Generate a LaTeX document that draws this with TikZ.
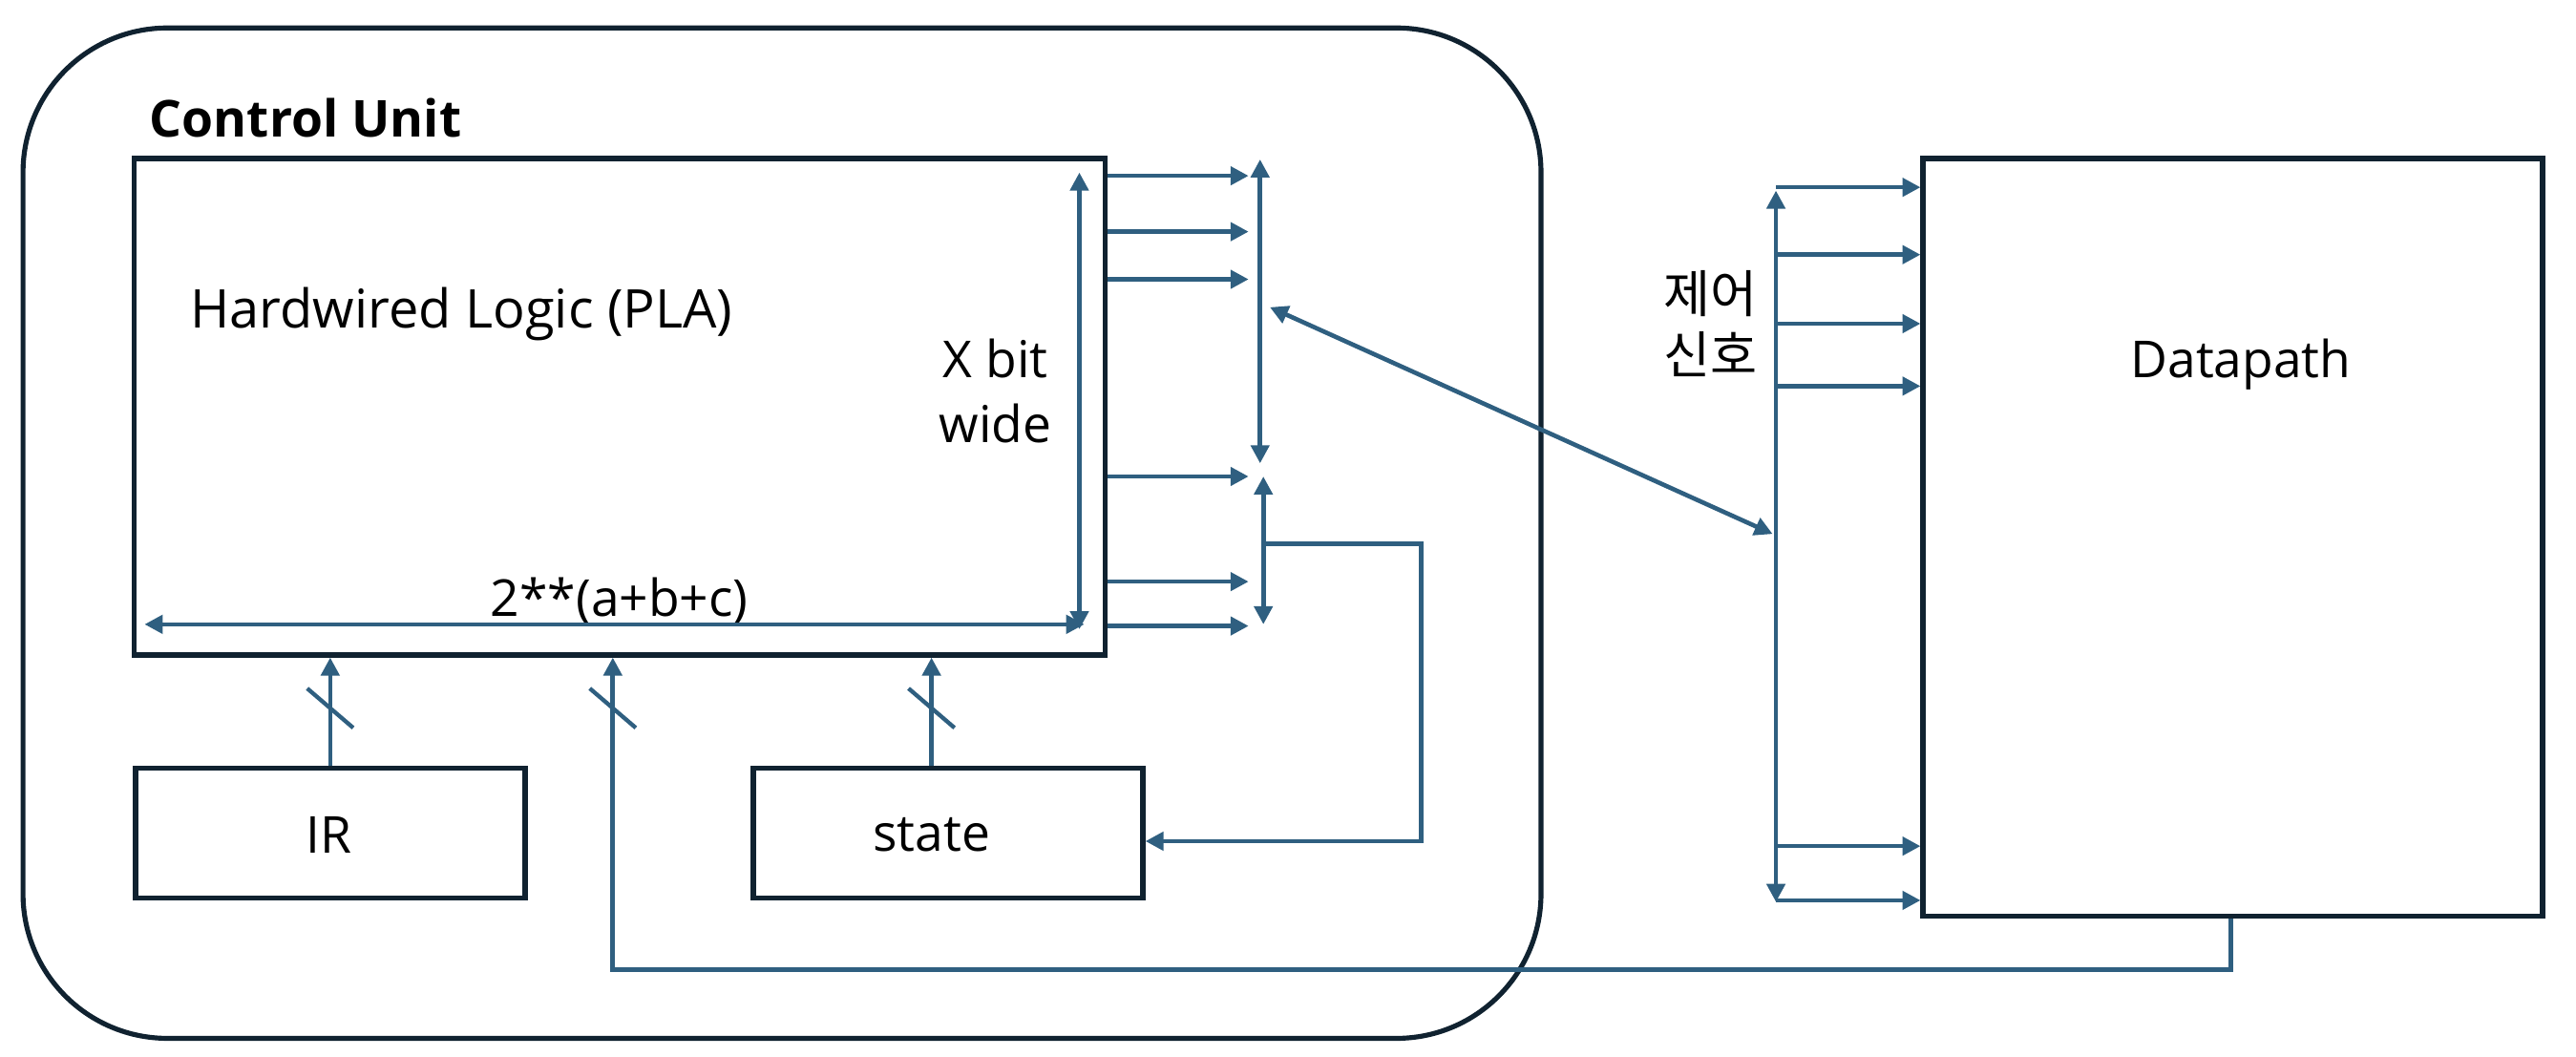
\documentclass[tikz,border=0pt]{standalone}
\usepackage{fontspec}
\setmainfont{Open Sans}
\newfontfamily\krfont{Noto Sans CJK KR}
\usetikzlibrary{arrows.meta}
\definecolor{boxc}{HTML}{102230}
\definecolor{arrc}{HTML}{2F5F80}
\tikzset{
  box/.style={draw=boxc, line width=3.2pt, anchor=north west, inner sep=0pt},
  wire/.style={draw=arrc, line width=2.7pt},
  arr/.style={wire, -{Triangle[length=11pt,width=11pt]}},
  darr/.style={wire, {Triangle[length=11pt,width=11pt]}-{Triangle[length=11pt,width=11pt]}},
  lbl/.style={font=\fontsize{31}{40}\selectfont, inner sep=0pt, align=center},
  slash/.style={wire, line width=2.5pt}
}
\begin{document}
\begin{tikzpicture}[x=1pt,y=-1pt]
\useasboundingbox (0,0) rectangle (1568,643);
% outer control unit
\draw[draw=boxc, line width=3pt, rounded corners=88pt] (14,17) rectangle (938,632);
\node[lbl, font=\fontsize{31}{40}\selectfont\bfseries, anchor=west] (cu) at (91,72) {Control Unit};
% boxes
\node[box, minimum width=591pt, minimum height=302pt] (pla) at (80,95) {};
\node[box, minimum width=237pt, minimum height=79pt] (ir) at (81,466) {};
\node[box, minimum width=237pt, minimum height=79pt] (st) at (457,466) {};
\node[box, minimum width=377pt, minimum height=461pt] (dp) at (1169,95) {};
% labels
\node[lbl, font=\fontsize{32.5}{40}\selectfont] (hwl) at (281,191) {Hardwired Logic (PLA)};
\node[lbl] (xbw) at (606,238) {X bit\\wide};
\node[lbl] (pw) at (377,366) {2**(a+b+c)};
\node[lbl] (irl) at (200,508) {IR};
\node[lbl] (stl) at (567,508) {state};
\node[lbl] (dpl) at (1364,222) {Datapath};
\node[lbl, font=\fontsize{31}{37}\krfont] (sig) at (1041,197) {제어\\신호};
% inside PLA dimension arrows
\coordinate (vt) at (657,105);
\coordinate (vb) at (657,383);
\draw[darr] (vt) -- (vb);
\coordinate (hl) at (88,380);
\coordinate (hr) at (660,380);
\draw[darr] (hl) -- (hr);
% PLA outputs
\foreach \y in {107,141,170,290,354,381}
  \draw[arr] (pla.east |- 0,\y) -- (760,\y);
\coordinate (b1t) at (767,97);
\coordinate (b1b) at (767,282);
\draw[darr] (b1t) -- (b1b);
\coordinate (b2t) at (769,290);
\coordinate (b2b) at (769,380);
\draw[darr] (b2t) -- (b2b);
% feedback to state
\coordinate (fb) at (769,331);
\draw[arr] (fb) -- (865,331) -- (865,512) -- (st.east |- 0,512);
% diagonal
\coordinate (dga) at (773,187);
\coordinate (dgb) at (1079,325);
\draw[darr] (dga) -- (dgb);
% right bus
\coordinate (rbt) at (1081,116);
\coordinate (rbb) at (1081,549);
\draw[darr] (rbt) -- (rbb);
\foreach \y in {114,155,197,235,515,548}
  \draw[arr] (1081,\y) -- (dp.west |- 0,\y);
% inputs to PLA
\draw[arr] (ir.north -| 201,0) -- (pla.south -| 201,0);
\draw[arr] (st.north -| 567,0) -- (pla.south -| 567,0);
\draw[arr] (dp.south -| 1358,0) -- (1358,590) -- (373,590) -- (pla.south -| 373,0);
\foreach \x in {201,373,567}
  \draw[slash] (\x-14,419) -- (\x+14,443);
\end{tikzpicture}
\end{document}
